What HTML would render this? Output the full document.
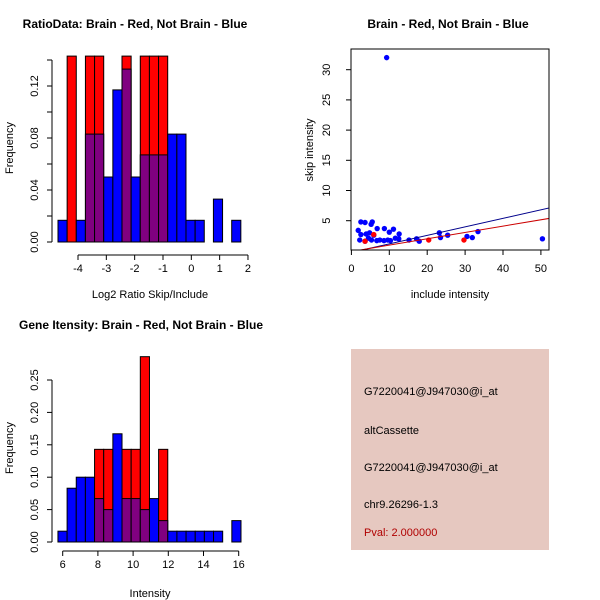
<!DOCTYPE html>
<html><head><meta charset="utf-8"><style>
body{margin:0;background:#fff}
svg{display:block;font-family:"Liberation Sans",sans-serif}
</style></head><body>
<svg id="chart" width="600" height="600" viewBox="0 0 600 600">
<rect x="0" y="0" width="600" height="600" fill="#fff"/>
<g id="p1"></g>
<g id="p2"></g>
<g id="p3"></g>
<g id="p4">
<rect x="351" y="349" width="198" height="201" fill="#e6c8c0"/>
<text x="364" y="395" font-size="11">G7220041@J947030@i_at</text>
<text x="364" y="434" font-size="11">altCassette</text>
<text x="364" y="471" font-size="11">G7220041@J947030@i_at</text>
<text x="364" y="508" font-size="11">chr9.26296-1.3</text>
<text x="364" y="536" font-size="11" fill="#b00000">Pval: 2.000000</text>
</g>
</svg>
<script>
// ---- Histogram 1 data ----
const h1Start = -4.706, h1Width = 0.3227;
const h1Blue = [0.0167,0,0.0167,0.083,0.083,0.05,0.117,0.133,0.05,0.067,0.067,0.067,0.083,0.083,0.0167,0.0167,0,0.033,0,0.0167];
const h1Red  = [0,0.143,0,0.143,0.143,0,0,0.143,0,0.143,0.143,0.143,0,0,0,0,0,0,0,0];
const h1XTicks = [-4,-3,-2,-1,0,1,2];
const h1YTicks = [0,0.02,0.04,0.06,0.08,0.10,0.12,0.14];
const h1YLabels = ["0.00","","0.04","","0.08","","0.12",""];
// ---- Histogram 2 data ----
const h2Start = 5.73, h2Width = 0.52;
const h2Blue = [0.0167,0.083,0.1,0.1,0.067,0.05,0.167,0.067,0.067,0.05,0.067,0.033,0.0167,0.0167,0.0167,0.0167,0.0167,0.0167,0,0.033];
const h2Red  = [0,0,0,0,0.143,0.143,0,0.143,0.143,0.286,0,0.143,0,0,0,0,0,0,0,0];
const h2XTicks = [6,8,10,12,14,16];
const h2YTicks = [0,0.05,0.10,0.15,0.20,0.25];
const h2YLabels = ["0.00","0.05","0.10","0.15","0.20","0.25"];
// ---- Scatter data ----
const blueX = [2.5,3.6,5.5,5.2,1.8,6.8,8.7,11.1,10,12.6,2.5,3.9,4.8,5.9,2.2,3.6,4.5,5.3,6.7,7.5,8.6,9.6,10.3,11.6,12.5,15.2,17.2,17.9,23.2,23.5,25.4,30.5,31.9,33.4,50.4,9.3];
const blueY = [4.8,4.7,4.8,4.4,3.4,3.7,3.7,3.6,3.1,2.8,2.7,2.8,3.0,2.6,1.8,1.6,2.1,1.8,1.7,1.8,1.7,1.8,1.7,2.1,2.0,1.8,2.0,1.6,3.0,2.2,2.6,2.4,2.2,3.2,2.0,32];
const redX = [3.6,5.9,20.4,29.7];
const redY = [1.6,2.7,1.8,1.8];
const blueFit = [-0.25,0.141]; // intercept, slope
const redFit = [-0.1,0.105];
const scXTicks = [0,10,20,30,40,50];
const scYTicks = [5,10,15,20,25,30];

const NS="http://www.w3.org/2000/svg";
function mk(parent,tag,attrs,txt){const e=document.createElementNS(NS,tag);for(const k in attrs)e.setAttribute(k,attrs[k]);if(txt!==undefined)e.textContent=txt;parent.appendChild(e);return e;}

function hist(g,o){
  const xs=v=>o.x0px+(v-o.x0)*o.xs, ys=v=>o.y0px-v*o.ys;
  mk(g,'text',{x:o.tx,y:o.ty,'font-size':12,'font-weight':'bold','text-anchor':'middle'},o.title);
  for(let i=0;i<o.blue.length;i++){
    const a=xs(o.start+i*o.w), b=xs(o.start+(i+1)*o.w);
    const bl=o.blue[i], rd=o.red[i];
    if(rd>0){const r=mk(g,'rect',{x:a,y:ys(rd),width:b-a,height:ys(0)-ys(rd),fill:'#ff0000',stroke:'#000','stroke-width':1});
      
      }
    if(bl>0){const c=rd>0?'#800080':'#0000ff';
      const r=mk(g,'rect',{x:a,y:ys(bl),width:b-a,height:ys(0)-ys(bl),fill:c,stroke:'#000','stroke-width':1});
      
      }
  }
  const ya=o.axX;
  mk(g,'line',{x1:ya,x2:ya,y1:ys(o.yT[0]),y2:ys(o.yT[o.yT.length-1]),stroke:'#000'});
  o.yT.forEach((t,i)=>{mk(g,'line',{x1:ya-5,x2:ya,y1:ys(t),y2:ys(t),stroke:'#000'});
    if(o.yL[i]){const lx=ya-14;const tx=mk(g,'text',{x:lx,y:ys(t),'font-size':11,'text-anchor':'middle',transform:`rotate(-90 ${lx} ${ys(t)})`},o.yL[i]);
      
      }});
  const xa=o.axY;
  mk(g,'line',{x1:xs(o.xT[0]),x2:xs(o.xT[o.xT.length-1]),y1:xa,y2:xa,stroke:'#000'});
  o.xT.forEach(t=>{mk(g,'line',{x1:xs(t),x2:xs(t),y1:xa,y2:xa+5,stroke:'#000'});
    const tx=mk(g,'text',{x:xs(t),y:xa+17,'font-size':11,'text-anchor':'middle'},String(t));
    
    });
  mk(g,'text',{x:150,y:o.xlY,'font-size':11,'text-anchor':'middle'},o.xl);
  mk(g,'text',{x:13,y:o.ylY,'font-size':11,'text-anchor':'middle',transform:`rotate(-90 13 ${o.ylY})`},'Frequency');
}
hist(document.getElementById('p1'),{title:'RatioData: Brain - Red, Not Brain - Blue',tx:135,ty:28,
  x0:-4,x0px:78,xs:28.33,y0px:242,ys:1300,start:h1Start,w:h1Width,blue:h1Blue,red:h1Red,
  yT:h1YTicks,yL:h1YLabels,xT:h1XTicks,axX:52,axY:255,xl:'Log2 Ratio Skip/Include',xlY:298,ylY:148});
hist(document.getElementById('p3'),{title:'Gene Itensity: Brain - Red, Not Brain - Blue',tx:141,ty:329,
  x0:6,x0px:62.7,xs:17.6,y0px:542,ys:648,start:h2Start,w:h2Width,blue:h2Blue,red:h2Red,
  yT:h2YTicks,yL:h2YLabels,xT:h2XTicks,axX:52,axY:551,xl:'Intensity',xlY:597,ylY:448});

(function(){
  const g=document.getElementById('p2');
  const xs=v=>351.4+v*3.79, ys=v=>250.9-v*6.04;
  mk(g,'text',{x:448,y:28,'font-size':12,'font-weight':'bold','text-anchor':'middle'},'Brain - Red, Not Brain - Blue');
  const cp=mk(g,'clipPath',{id:'sc'});mk(cp,'rect',{x:351,y:49,width:198,height:201});
  const inner=mk(g,'g',{'clip-path':'url(#sc)'});
  for(let i=0;i<blueX.length;i++){const c=mk(inner,'circle',{cx:xs(blueX[i]),cy:ys(blueY[i]),r:2.7,fill:'#0000ff'});
    
    }
  for(let i=0;i<redX.length;i++){const c=mk(inner,'circle',{cx:xs(redX[i]),cy:ys(redY[i]),r:2.7,fill:'#ff0000'});
    
    }
  [[blueFit,'#00008b','fit-line-not-brain'],[redFit,'#cc0000','fit-line-brain']].forEach(([f,c,n])=>{
    const l=mk(inner,'line',{x1:xs(0),y1:ys(f[0]),x2:xs(60),y2:ys(f[0]+60*f[1]),stroke:c,'stroke-width':1});
    
    });
  mk(g,'rect',{x:351,y:49,width:198,height:201,fill:'none',stroke:'#000'});
  scXTicks.forEach(t=>{mk(g,'line',{x1:xs(t),x2:xs(t),y1:250,y2:255,stroke:'#000'});
    const tx=mk(g,'text',{x:xs(t),y:272,'font-size':11,'text-anchor':'middle'},t);
    
    });
  scYTicks.forEach(t=>{mk(g,'line',{x1:346,x2:351,y1:ys(t),y2:ys(t),stroke:'#000'});
    const tx=mk(g,'text',{x:330,y:ys(t),'font-size':11,'text-anchor':'middle',transform:`rotate(-90 330 ${ys(t)})`},t);
    
    });
  mk(g,'text',{x:450,y:298,'font-size':11,'text-anchor':'middle'},'include intensity');
  mk(g,'text',{x:313,y:150,'font-size':11,'text-anchor':'middle',transform:'rotate(-90 313 150)'},'skip intensity');
})();
</script>
</body></html>
